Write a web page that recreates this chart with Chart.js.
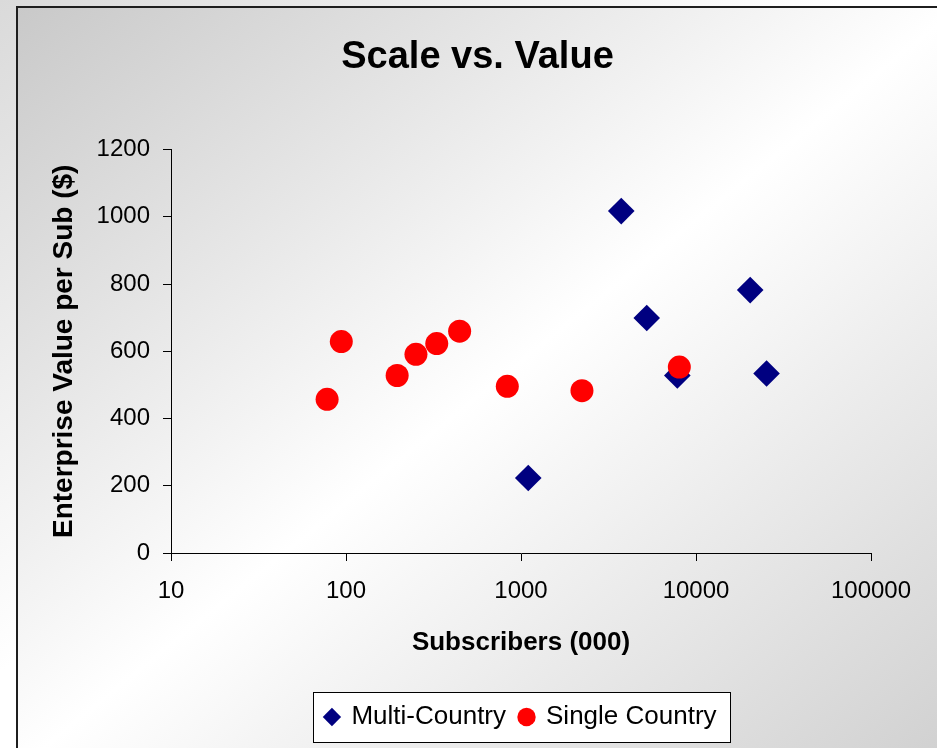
<!DOCTYPE html>
<html>
<head>
<meta charset="utf-8">
<script src="https://cdn.jsdelivr.net/npm/chart.js@4.4.0/dist/chart.umd.min.js"></script>
<style>
  html, body { margin: 0; padding: 0; width: 937px; height: 748px; overflow: hidden; }
  body { background: linear-gradient(to bottom right, #dadada, #ffffff 45%); position: relative; }
  #frame {
    position: absolute; left: 16px; top: 6px; width: 940px; height: 760px;
    border: 2px solid #1e1e1e;
    background: linear-gradient(to bottom right, #c9c9c9 0%, #ffffff 50%, #cfcfcf 100%);
  }
  #scaleChart { position: absolute; left: 0; top: 0; }
</style>
</head>
<body>
<div id="frame">
  <canvas id="scaleChart" width="919" height="740"></canvas>
</div>
<script>
// tick labels
const xTicks = [10, 100, 1000, 10000, 100000];
const yTicks = [0, 200, 400, 600, 800, 1000, 1200];

// Multi-Country: subscribers (000) and enterprise value per sub ($)
const multiSubs = [3740, 5230, 20400, 7820, 25300, 1100];
const multiValue = [1017, 699, 782, 528, 534, 223];

// Single Country
const singleSubs = [94, 78, 196, 251, 330, 446, 835, 2230, 8030];
const singleValue = [629, 457, 528, 591, 623, 660, 496, 483, 553];

const FONT = "'Liberation Sans', Arial, sans-serif";

function toPoints(xs, ys) {
  return xs.map((x, i) => ({ x: x, y: ys[i] }));
}

// white box with a thin border around the legend, like the spreadsheet one
const legendBox = {
  id: 'legendBox',
  beforeDraw(chart) {
    const boxes = chart.legend && chart.legend.legendHitBoxes;
    if (!boxes || !boxes.length) return;
    const left = Math.min(...boxes.map(b => b.left)) - 12;
    const right = Math.max(...boxes.map(b => b.left + b.width)) + 14;
    const mid = boxes[0].top + boxes[0].height / 2;
    const ctx = chart.ctx;
    ctx.save();
    ctx.fillStyle = '#ffffff';
    ctx.fillRect(left, mid - 25, right - left, 50);
    ctx.strokeStyle = '#000000';
    ctx.lineWidth = 1;
    ctx.strokeRect(Math.round(left) + 0.5, Math.round(mid - 25) + 0.5, Math.round(right - left), 50);
    ctx.restore();
  }
};

new Chart(document.getElementById('scaleChart'), {
  type: 'scatter',
  data: {
    datasets: [{
      label: 'Multi-Country',
      data: toPoints(multiSubs, multiValue),
      pointStyle: 'rectRot',
      pointRadius: 13.3,
      backgroundColor: '#000080',
      borderColor: '#000080',
      borderWidth: 0,
      order: 1
    }, {
      label: 'Single Country',
      data: toPoints(singleSubs, singleValue),
      pointStyle: 'circle',
      pointRadius: 11.5,
      backgroundColor: '#ff0000',
      borderColor: '#ff0000',
      borderWidth: 0,
      order: 0
    }]
  },
  options: {
    responsive: false,
    animation: false,
    events: [],
    layout: { padding: { left: 0, right: 0, top: 0, bottom: 8 } },
    plugins: {
      title: {
        display: true,
        text: 'Scale vs. Value',
        color: '#000',
        font: { family: FONT, size: 38, weight: 'bold' },
        padding: { top: 27, bottom: 69 }
      },
      legend: {
        position: 'bottom',
        fullSize: false,
        labels: {
          usePointStyle: true,
          boxWidth: 13,
          boxHeight: 13,
          padding: 14,
          color: '#000',
          font: { family: FONT, size: 26 },
          sort: (a, b) => a.datasetIndex - b.datasetIndex
        }
      },
      tooltip: { enabled: false }
    },
    scales: {
      x: {
        type: 'logarithmic',
        position: 'bottom',
        min: xTicks[0],
        max: xTicks[xTicks.length - 1],
        afterBuildTicks: s => { s.ticks = xTicks.map(v => ({ value: v })); },
        afterFit: s => { s.height = 137; },
        ticks: {
          callback: v => String(v),
          color: '#000',
          font: { family: FONT, size: 24 },
          padding: 16,
          maxRotation: 0,
          autoSkip: false
        },
        grid: { drawOnChartArea: false, color: '#000', tickLength: 8 },
        border: { color: '#000', width: 1 },
        title: {
          display: true,
          text: 'Subscribers (000)',
          color: '#000',
          font: { family: FONT, size: 26, weight: 'bold' },
          padding: { top: 0, bottom: 32 }
        }
      },
      y: {
        min: yTicks[0],
        max: yTicks[yTicks.length - 1],
        afterBuildTicks: s => { s.ticks = yTicks.map(v => ({ value: v })); },
        afterFit: s => { s.width = 153; },
        ticks: {
          callback: v => String(v),
          color: '#000',
          font: { family: FONT, size: 24 },
          padding: 13
        },
        grid: { drawOnChartArea: false, color: '#000', tickLength: 8 },
        border: { color: '#000', width: 1 },
        title: {
          display: true,
          text: 'Enterprise Value per Sub ($)',
          color: '#000',
          font: { family: FONT, size: 28, weight: 'bold' },
          padding: { top: 29, bottom: 0 }
        }
      },
      // empty right-hand spacer so the title stays centred on the whole frame
      spacer: {
        type: 'linear',
        position: 'right',
        display: true,
        afterFit: s => { s.width = 66; },
        ticks: { display: false },
        grid: { display: false },
        border: { display: false }
      }
    }
  },
  plugins: [legendBox]
});
</script>
</body>
</html>
